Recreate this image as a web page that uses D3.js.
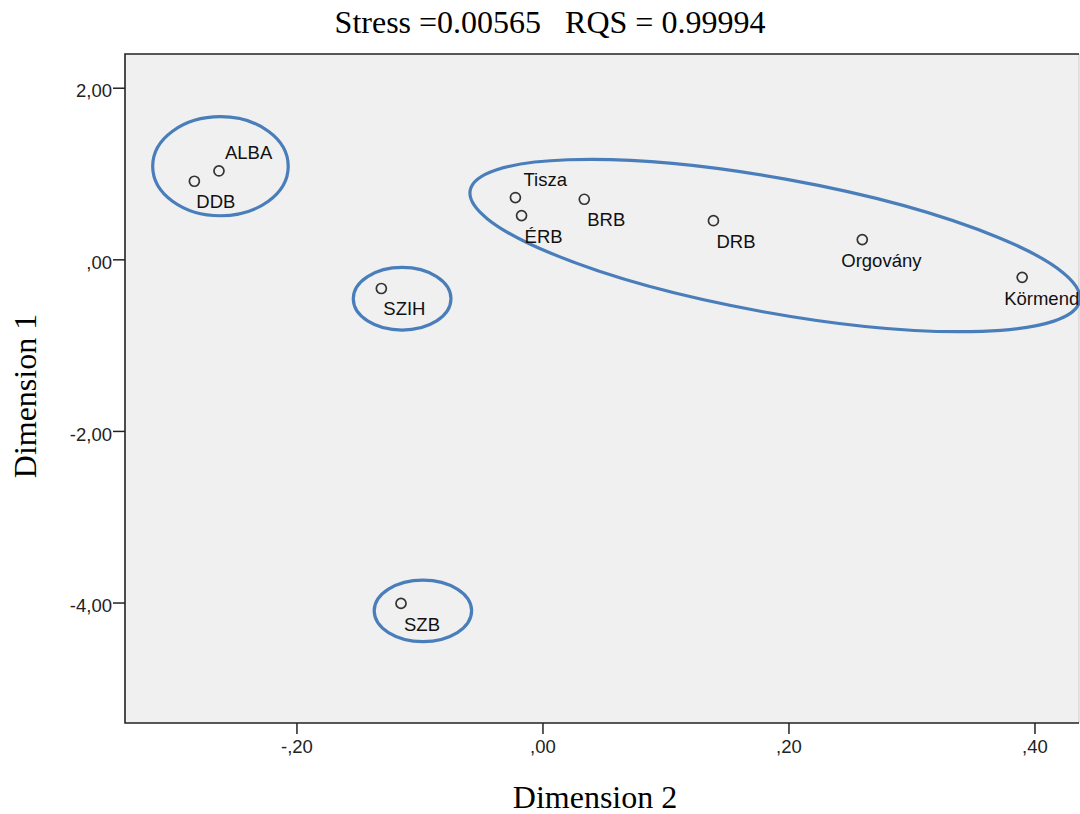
<!DOCTYPE html>
<html>
<head>
<meta charset="utf-8">
<script src="https://cdn.jsdelivr.net/npm/d3@7"></script>
<style>
  html, body { margin: 0; padding: 0; background: #ffffff; }
  svg { display: block; }
</style>
</head>
<body>
<svg id="chart" width="1080" height="814"></svg>
<script>
// ---- data (MDS coordinates: Dimension 2 on x, Dimension 1 on y) ----
const names = ["ALBA", "DDB", "Tisza", "ÉRB", "BRB", "DRB", "Orgovány", "Körmend", "SZIH", "SZB"];
const dim2 = [-0.263, -0.283, -0.022, -0.017, 0.034, 0.139, 0.260, 0.390, -0.131, -0.115];
const dim1 = [1.03, 0.91, 0.72, 0.51, 0.70, 0.45, 0.23, -0.21, -0.34, -4.01];

const xTicks = [-0.2, 0, 0.2, 0.4];
const xTickLabels = ["-,20", ",00", ",20", ",40"];
const yTicks = [2, 0, -2, -4];
const yTickLabels = ["2,00", ",00", "-2,00", "-4,00"];

const titleText = "Stress =0.00565   RQS = 0.99994";
const xTitle = "Dimension 2";
const yTitle = "Dimension 1";

// group ellipses (data units: centre x, centre y, radius in x units, radius in y units, rotation deg)
const groupCx = [-0.2618, 0.189, -0.1141, -0.0972];
const groupCy = [1.085, 0.161, -0.459, -4.097];
const groupRx = [0.0551, 0.2518, 0.0397, 0.0396];
const groupRy = [0.577, 0.784, 0.365, 0.359];
const groupRot = [0, 10.25, 0, 0];

// ---- layout (label offsets in px relative to the point) ----
const labelDx = [6, 2, 8, 3, 3, 3, -21, -18, 2, 3];
const labelDy = [-12, 27, -12, 27.5, 27, 27.5, 27.5, 28, 27, 27.5];

const plot = { left: 125, right: 1079, top: 54, bottom: 723 };

const svg = d3.select("#chart");

const x = d3.scaleLinear().domain([-0.3394, 0.4362]).range([plot.left, plot.right]);
const y = d3.scaleLinear().domain([2.393, -5.404]).range([plot.top, plot.bottom]);

// plot background
svg.append("rect")
  .attr("x", plot.left).attr("y", plot.top)
  .attr("width", plot.right - plot.left).attr("height", plot.bottom - plot.top)
  .attr("fill", "#f0f0f0");

// right border (light)
svg.append("line")
  .attr("x1", plot.right).attr("x2", plot.right)
  .attr("y1", plot.top).attr("y2", plot.bottom)
  .attr("stroke", "#c8c8c8").attr("stroke-width", 1);

// axes
const sansFont = "'Liberation Sans', Arial, sans-serif";
const xAxis = d3.axisBottom(x).tickValues(xTicks)
  .tickFormat((d, i) => xTickLabels[i]).tickSize(11).tickPadding(6);
const yAxis = d3.axisLeft(y).tickValues(yTicks)
  .tickFormat((d, i) => yTickLabels[i]).tickSize(12).tickPadding(1);

const gx = svg.append("g").attr("transform", `translate(0,${plot.bottom})`).call(xAxis);
const gy = svg.append("g").attr("transform", `translate(${plot.left},0)`).call(yAxis);
[gx, gy].forEach(g => {
  g.select(".domain").remove();
  g.selectAll(".tick line").attr("stroke", "#222").attr("stroke-width", 1.5);
  g.selectAll(".tick text").attr("fill", "#222")
    .style("font-family", sansFont).style("font-size", "18.5px");
});
gy.selectAll(".tick text").attr("dy", "0.5em");

// dark frame: top, left, bottom
svg.append("path")
  .attr("d", `M${plot.right},${plot.top}H${plot.left}V${plot.bottom}H${plot.right}`)
  .attr("fill", "none").attr("stroke", "#222").attr("stroke-width", 1.6);

// group ellipses
const groups = groupCx.map((cx, i) => ({
  cx, cy: groupCy[i], rx: groupRx[i], ry: groupRy[i], rot: groupRot[i]
}));
svg.append("g").selectAll("ellipse").data(groups).join("ellipse")
  .attr("transform", d => `translate(${x(d.cx)},${y(d.cy)}) rotate(${d.rot})`)
  .attr("rx", d => x(d.rx) - x(0))
  .attr("ry", d => y(0) - y(d.ry))
  .attr("fill", "none")
  .attr("stroke", "#4a7ebb")
  .attr("stroke-width", 3.2);

// points
const pts = names.map((n, i) => ({ name: n, x: dim2[i], y: dim1[i], dx: labelDx[i], dy: labelDy[i] }));
svg.append("g").selectAll("circle").data(pts).join("circle")
  .attr("cx", d => x(d.x)).attr("cy", d => y(d.y))
  .attr("r", 5)
  .attr("fill", "none")
  .attr("stroke", "#333")
  .attr("stroke-width", 1.7);

// labels
svg.append("g").selectAll("text").data(pts).join("text")
  .attr("x", d => x(d.x) + d.dx)
  .attr("y", d => y(d.y) + d.dy)
  .attr("fill", "#111")
  .style("font-family", sansFont)
  .style("font-size", "18.5px")
  .text(d => d.name);

// titles
const serif = "'Liberation Serif', 'Times New Roman', serif";
svg.append("text")
  .attr("x", 550).attr("y", 33)
  .attr("text-anchor", "middle")
  .attr("xml:space", "preserve")
  .style("white-space", "pre")
  .style("font-family", serif).style("font-size", "32px")
  .attr("fill", "#000")
  .text(titleText);

svg.append("text")
  .attr("x", 595).attr("y", 808)
  .attr("text-anchor", "middle")
  .style("font-family", serif).style("font-size", "32px")
  .attr("fill", "#000")
  .text(xTitle);

svg.append("text")
  .attr("transform", "translate(36,396) rotate(-90)")
  .attr("text-anchor", "middle")
  .style("font-family", serif).style("font-size", "32px")
  .attr("fill", "#000")
  .text(yTitle);
</script>
</body>
</html>
